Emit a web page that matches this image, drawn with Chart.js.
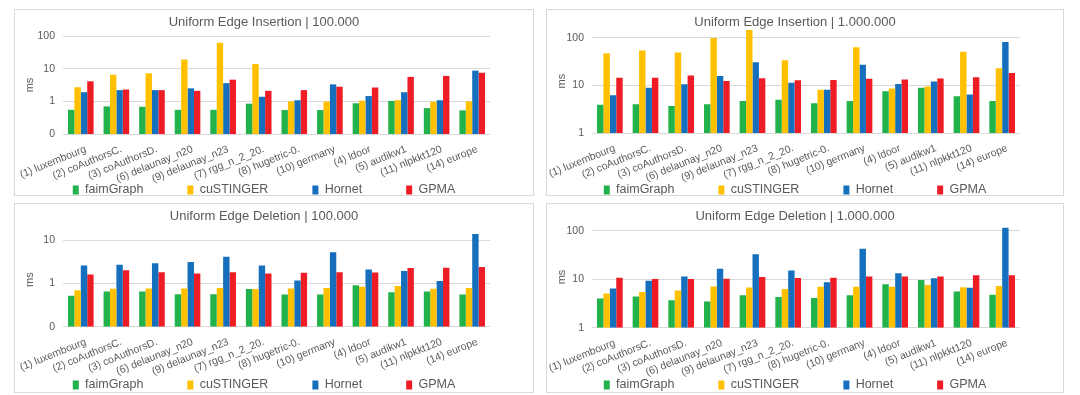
<!DOCTYPE html>
<html>
<head>
<meta charset="utf-8">
<script src="https://cdn.jsdelivr.net/npm/chart.js@4/dist/chart.umd.min.js"></script>
<style>
  html, body { margin: 0; padding: 0; background: #ffffff; }
  body { width: 1080px; height: 395px; position: relative; overflow: hidden; }
  .panel { position: absolute; border: 1px solid #d9d9d9; box-sizing: border-box; background: #fff; }
  .panel canvas { display: block; }
</style>
</head>
<body>
<div class="panel" style="left:14px;top:9px;width:520px;height:187px;"><canvas id="c1" width="518" height="185"></canvas></div>
<div class="panel" style="left:546px;top:9px;width:518px;height:187px;"><canvas id="c2" width="516" height="185"></canvas></div>
<div class="panel" style="left:14px;top:203px;width:520px;height:190px;"><canvas id="c3" width="518" height="188"></canvas></div>
<div class="panel" style="left:546px;top:203px;width:518px;height:190px;"><canvas id="c4" width="516" height="188"></canvas></div>
<script>
// ---------------- DATA ----------------
const categories = ['(1) luxembourg', '(2) coAuthorsC.', '(3) coAuthorsD.', '(6) delaunay_n20', '(9) delaunay_n23', '(7) rgg_n_2_20.', '(8) hugetric-0.', '(10) germany', '(4) ldoor', '(5) audikw1', '(11) nlpkkt120', '(14) europe'];
const seriesNames = ['faimGraph', 'cuSTINGER', 'Hornet', 'GPMA'];

// Uniform Edge Insertion | 100.000
const ins100k_faimGraph = [0.55, 0.70, 0.68, 0.55, 0.55, 0.85, 0.54, 0.54, 0.87, 1.03, 0.62, 0.53];
const ins100k_cuSTINGER = [2.7, 6.5, 7.2, 19, 62, 14, 1.0, 0.98, 1.05, 1.08, 0.98, 1.0];
const ins100k_Hornet    = [1.9, 2.2, 2.2, 2.5, 3.6, 1.38, 1.08, 3.3, 1.45, 1.9, 1.08, 8.7];
const ins100k_GPMA      = [4.1, 2.3, 2.2, 2.1, 4.6, 2.1, 2.2, 2.8, 2.65, 5.6, 6.0, 7.5];

// Uniform Edge Insertion | 1.000.000
const ins1m_faimGraph = [3.9, 4.0, 3.7, 4.0, 4.7, 5.0, 4.2, 4.7, 7.5, 8.9, 5.9, 4.7];
const ins1m_cuSTINGER = [47, 54, 49, 98, 145, 33.5, 8.1, 63, 8.6, 9.5, 51, 22.8];
const ins1m_Hornet    = [6.2, 8.9, 10.6, 15.8, 30.5, 11.3, 8.1, 27, 10.7, 12, 6.4, 81];
const ins1m_GPMA      = [14.5, 14.4, 16, 12.4, 14.1, 12.8, 13, 13.7, 13.2, 13.9, 14.8, 18.2];

// Uniform Edge Deletion | 100.000
const del100k_faimGraph = [0.52, 0.65, 0.65, 0.56, 0.56, 0.74, 0.55, 0.55, 0.90, 0.62, 0.65, 0.55];
const del100k_cuSTINGER = [0.69, 0.75, 0.76, 0.76, 0.78, 0.74, 0.76, 0.78, 0.83, 0.87, 0.75, 0.78];
const del100k_Hornet    = [2.6, 2.7, 2.9, 3.1, 4.1, 2.6, 1.17, 5.2, 2.1, 1.93, 1.14, 13.8];
const del100k_GPMA      = [1.6, 2.0, 1.8, 1.7, 1.8, 1.7, 1.75, 1.8, 1.77, 2.25, 2.3, 2.4];

// Uniform Edge Deletion | 1.000.000
const del1m_faimGraph = [4.0, 4.4, 3.7, 3.5, 4.7, 4.3, 4.1, 4.7, 7.9, 9.7, 5.6, 4.8];
const del1m_cuSTINGER = [5.1, 5.5, 5.9, 7.1, 6.8, 6.3, 7.0, 7.0, 7.0, 7.6, 6.9, 7.3];
const del1m_Hornet    = [6.5, 9.3, 11.5, 16.5, 33, 15.2, 8.7, 43, 13.3, 10.5, 6.7, 117];
const del1m_GPMA      = [10.8, 10.2, 10.2, 10.3, 11.2, 10.6, 10.8, 11.5, 11.4, 11.5, 12.1, 12.1];

// Y-axis tick values and labels
const ticksSmall = [0.1, 1, 10, 100];
const tickLabelsSmall = ['0', '1', '10', '100'];
const ticksLarge = [1, 10, 100];
const tickLabelsLarge = ['1', '10', '100'];

const titles = ['Uniform Edge Insertion | 100.000', 'Uniform Edge Insertion | 1.000.000', 'Uniform Edge Deletion | 100.000', 'Uniform Edge Deletion | 1.000.000'];
const colors = ['#21b24b', '#ffc000', '#156fbd', '#ee1c25'];

// ---------------- CHARTS ----------------
const FONT = '"Liberation Sans", Arial, sans-serif';
const TXT = '#595959';
const LEGEND_FONT = 12.5;
const LEGEND_PAD = 44;

function legendPlacer(centerY) {
  return {
    id: 'legendPlacer',
    beforeLayout(chart) {
      const lg = chart.legend;
      if (lg && !lg.__patched) {
        const fit = lg.fit;
        lg.fit = function () { fit.call(this); this.height = 4; };
        lg.__patched = true;
      }
    },
    afterLayout(chart) {
      const lg = chart.legend;
      if (!lg) return;
      lg.top = centerY - LEGEND_PAD - LEGEND_FONT / 2;
      lg.bottom = centerY + 12;
      lg.height = lg.bottom - lg.top;
    }
  };
}

function makeChart(id, title, series, opt) {
  const tickVals = opt.ticks, tickLabs = opt.tickLabels;
  new Chart(document.getElementById(id), {
    type: 'bar',
    data: {
      labels: categories,
      datasets: series.map((vals, i) => ({
        label: seriesNames[i],
        data: vals,
        backgroundColor: colors[i],
        borderWidth: 0,
        categoryPercentage: 0.72,
        barPercentage: 1.0
      }))
    },
    plugins: [legendPlacer(opt.legendCenter)],
    options: {
      responsive: false,
      animation: false,
      devicePixelRatio: 1,
      layout: { padding: { left: 0, right: 20, top: 0, bottom: 0 } },
      plugins: {
        title: {
          display: true, text: title, color: TXT,
          font: { family: FONT, size: 13, weight: 'normal' },
          padding: { top: 5, bottom: opt.titleBottom }
        },
        legend: {
          display: true, position: 'bottom',
          labels: {
            color: TXT, boxWidth: 6, boxHeight: 9, padding: LEGEND_PAD,
            font: { family: FONT, size: LEGEND_FONT }
          }
        },
        tooltip: { enabled: false }
      },
      scales: {
        x: {
          grid: { display: false, drawTicks: false },
          border: { display: false },
          ticks: {
            color: TXT, font: { family: FONT, size: 10.5 },
            minRotation: 22, maxRotation: 22, autoSkip: false, padding: 9, labelOffset: 5
          },
          afterFit: (s) => { s.height = opt.xHeight; s.paddingLeft = 0; s.paddingRight = opt.plotRightGap; }
        },
        y: {
          type: 'logarithmic',
          min: opt.min, max: opt.max,
          grid: { color: '#d9d9d9', drawTicks: false, lineWidth: 1 },
          border: { display: false },
          title: {
            display: true, text: 'ms', color: TXT,
            font: { family: FONT, size: 11 }, padding: { top: 8, bottom: 0 }
          },
          ticks: {
            color: TXT, font: { family: FONT, size: 10.5 }, padding: 8,
            callback: (v) => { const k = tickVals.indexOf(v); return k >= 0 ? tickLabs[k] : ''; }
          },
          afterBuildTicks: (s) => { s.ticks = tickVals.map(v => ({ value: v })); },
          afterFit: (s) => { s.width = opt.yWidth; }
        }
      }
    }
  });
}

makeChart('c1', titles[0], [ins100k_faimGraph, ins100k_cuSTINGER, ins100k_Hornet, ins100k_GPMA],
  { ticks: ticksSmall, tickLabels: tickLabelsSmall, min: 0.1, max: 100, titleBottom: 5.4, yWidth: 48, plotRightGap: 43, xHeight: 57, legendCenter: 180 });
makeChart('c2', titles[1], [ins1m_faimGraph, ins1m_cuSTINGER, ins1m_Hornet, ins1m_GPMA],
  { ticks: ticksLarge, tickLabels: tickLabelsLarge, min: 1, max: 150, titleBottom: -1.3, yWidth: 45, plotRightGap: 43, xHeight: 58, legendCenter: 180 });
makeChart('c3', titles[2], [del100k_faimGraph, del100k_cuSTINGER, del100k_Hornet, del100k_GPMA],
  { ticks: ticksSmall.slice(0, 3), tickLabels: tickLabelsSmall.slice(0, 3), min: 0.1, max: 15, titleBottom: 7.8, yWidth: 48, plotRightGap: 43, xHeight: 61.3, legendCenter: 181 });
makeChart('c4', titles[3], [del1m_faimGraph, del1m_cuSTINGER, del1m_Hornet, del1m_GPMA],
  { ticks: ticksLarge, tickLabels: tickLabelsLarge, min: 1, max: 125, titleBottom: 1.7, yWidth: 45, plotRightGap: 43, xHeight: 60.3, legendCenter: 181 });
</script>
</body>
</html>
